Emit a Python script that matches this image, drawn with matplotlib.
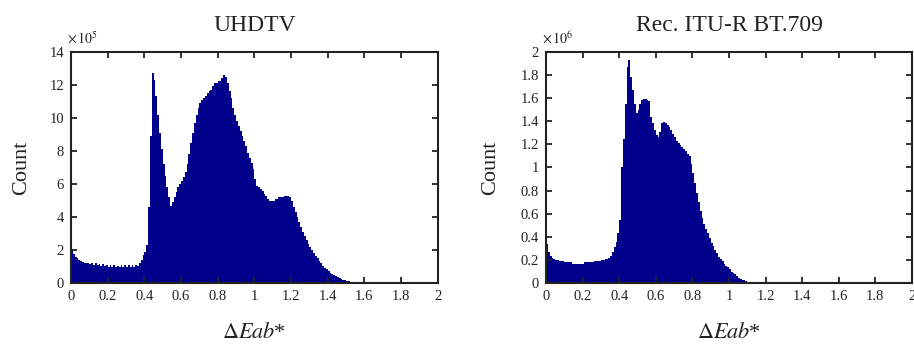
import numpy as np
import matplotlib
matplotlib.use('Agg')
import matplotlib.pyplot as plt
from matplotlib import ticker

plt.rcParams['font.family'] = ['Liberation Serif', 'DejaVu Serif']
plt.rcParams['mathtext.fontset'] = 'stix'

# histogram bins: width 0.01 in Delta Eab*, starting at 0
bin_width = 0.01

# UHDTV counts per bin, in units of 1e5
uhdtv_counts_e5 = [
  2.0, 1.8, 1.6, 1.5, 1.4, 1.35, 1.3, 1.25, 1.2, 1.25,
  1.15, 1.2, 1.1, 1.2, 1.1, 1.15, 1.05, 1.15, 1.05, 1.1,
  1.0, 1.1, 1.0, 1.1, 1.0, 1.05, 1.0, 1.1, 1.0, 1.1,
  1.0, 1.1, 1.0, 1.1, 1.0, 1.1, 1.05, 1.2, 1.4, 1.7,
  1.9, 2.3, 4.6, 8.9, 12.7, 12.3, 11.3, 10.2, 9.1, 8.1,
  7.2, 6.5, 5.8, 5.2, 4.7, 4.9, 5.2, 5.5, 5.8, 6.0,
  6.2, 6.4, 6.7, 7.2, 7.8, 8.5, 9.1, 9.7, 10.2, 10.6,
  10.9, 11.1, 11.2, 11.3, 11.5, 11.6, 11.7, 11.9, 12.1, 12.1,
  12.2, 12.2, 12.4, 12.6, 12.5, 12.1, 11.6, 11.2, 10.6, 10.2,
  9.8, 9.5, 9.2, 8.9, 8.6, 8.3, 7.9, 7.6, 7.3, 6.9,
  6.3, 5.9, 5.8, 5.7, 5.6, 5.4, 5.3, 5.1, 5.0, 5.0,
  5.0, 5.1, 5.1, 5.2, 5.2, 5.2, 5.3, 5.3, 5.3, 5.2,
  5.0, 4.6, 4.3, 4.0, 3.7, 3.4, 3.1, 2.85, 2.6, 2.4,
  2.2, 2.0, 1.85, 1.65, 1.5, 1.35, 1.2, 1.05, 0.95, 0.85,
  0.75, 0.65, 0.57, 0.5, 0.43, 0.37, 0.31, 0.26, 0.22, 0.19,
  0.15, 0.12, 0.1, 0.08, 0.06, 0.05, 0.04, 0.03, 0.02, 0.01,
]

# Rec. ITU-R BT.709 counts per bin, in units of 1e6
bt709_counts_e6 = [
  0.34, 0.27, 0.24, 0.22, 0.21, 0.20, 0.20, 0.19, 0.19, 0.19,
  0.18, 0.18, 0.18, 0.18, 0.17, 0.17, 0.17, 0.17, 0.17, 0.17,
  0.17, 0.18, 0.18, 0.18, 0.18, 0.18, 0.19, 0.19, 0.19, 0.19,
  0.20, 0.20, 0.21, 0.21, 0.22, 0.24, 0.27, 0.31, 0.36, 0.43,
  0.55, 1.0, 1.25, 1.55, 1.87, 1.93, 1.78, 1.67, 1.55, 1.47,
  1.50, 1.55, 1.58, 1.59, 1.59, 1.58, 1.57, 1.44, 1.38, 1.32,
  1.28, 1.26, 1.31, 1.38, 1.39, 1.38, 1.37, 1.35, 1.32, 1.29,
  1.26, 1.23, 1.21, 1.19, 1.18, 1.16, 1.14, 1.12, 1.10, 1.03,
  0.95, 0.87, 0.78, 0.70, 0.62, 0.56, 0.51, 0.47, 0.43, 0.39,
  0.35, 0.32, 0.29, 0.26, 0.23, 0.21, 0.19, 0.17, 0.15, 0.14,
  0.12, 0.10, 0.09, 0.08, 0.06, 0.05, 0.04, 0.03, 0.025, 0.02,
  0.015, 0.01, 0.007, 0.004, 0.002,
]

titles = ['UHDTV', 'Rec. ITU-R BT.709']
exponents = [5, 6]
ymaxes = [14, 2]
ytick_steps = [2, 0.2]

bar_color = '#01018c'
frame_color = '#222222'


def draw_hist(ax, counts, title, exponent, ymax, ystep):
  n = len(counts)
  edges = np.round(np.arange(n + 1) * bin_width, 2)
  ax.stairs(counts, edges, fill=True, color=bar_color, linewidth=0)

  ax.set_xlim(0, 2)
  ax.set_ylim(0, ymax)
  ax.xaxis.set_major_locator(ticker.MultipleLocator(0.2))
  ax.yaxis.set_major_locator(ticker.MultipleLocator(ystep))
  ax.xaxis.set_major_formatter(ticker.FormatStrFormatter('%g'))
  ax.yaxis.set_major_formatter(ticker.FuncFormatter(lambda v, p: '%g' % round(v, 2)))

  ax.tick_params(direction='in', top=True, right=True, length=4.5, width=1.3,
                 color=frame_color, labelsize=10.5, pad=5, labelcolor='#222222')
  for s in ax.spines.values():
    s.set_linewidth(1.5)
    s.set_color(frame_color)

  ax.set_title(title, fontsize=17, pad=15, color='#222222')
  ax.set_ylabel('Count', fontsize=16, color='#222222')
  ax.set_xlabel(r'$\Delta Eab$*', fontsize=16, color='#222222')
  ax.xaxis.set_label_coords(0.5, -0.17)
  ax.text(-0.012, 1.035, r'$\times\,10^{%d}$' % exponent, transform=ax.transAxes,
          fontsize=10, ha='left', va='baseline', color='#222222')


fig = plt.figure(figsize=(9.14, 3.47), dpi=100)
ax1 = fig.add_axes([0.0777, 0.1836, 0.4012, 0.6674])
ax2 = fig.add_axes([0.5974, 0.1836, 0.4004, 0.6674])

draw_hist(ax1, uhdtv_counts_e5, titles[0], exponents[0], ymaxes[0], ytick_steps[0])
draw_hist(ax2, bt709_counts_e6, titles[1], exponents[1], ymaxes[1], ytick_steps[1])
ax1.yaxis.set_label_coords(-0.11, 0.5)
ax2.yaxis.set_label_coords(-0.125, 0.5)

fig.savefig('out.png', dpi=100)
